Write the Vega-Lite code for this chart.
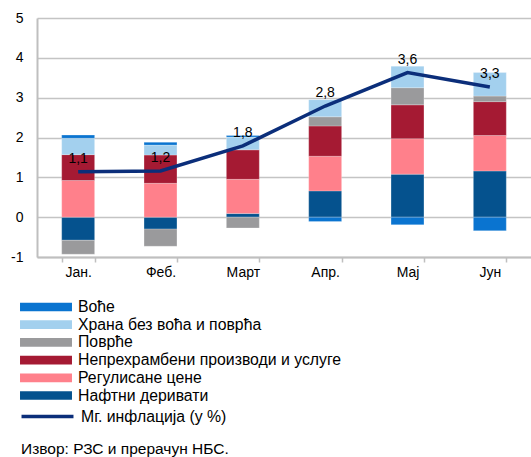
{
  "$schema": "https://vega.github.io/schema/vega-lite/v6.json",
  "width": 494,
  "height": 239,
  "autosize": {"type": "none"},
  "padding": {"left": 37, "top": 18, "right": 0, "bottom": 200},
  "background": "white",
  "config": {
    "locale": {"number": {"decimal": ",", "thousands": ".", "grouping": [3], "currency": ["", ""], "minus": "-"}},
    "font": "Liberation Sans",
    "view": {"stroke": null},
    "axis": {"labelFont": "Liberation Sans", "labelFontSize": 14, "labelColor": "#000000", "titleFont": "Liberation Sans"},
    "axisY": {"labelOverlap": false},
    "legend": {"labelFont": "Liberation Sans", "labelFontSize": 15.8, "labelColor": "#000000", "labelLimit": 400}
  },
  "title": {
    "text": "Извор: РЗС и прерачун НБС.",
    "orient": "bottom",
    "anchor": "start",
    "frame": "group",
    "dx": -16,
    "offset": 17,
    "font": "Liberation Sans",
    "fontSize": 15.5,
    "fontWeight": "normal",
    "color": "#000000"
  },
  "datasets": {
    "bars": [
      {"m": "Јан.", "c": "Нафтни деривати", "v": -0.58, "ord": 1},
      {"m": "Јан.", "c": "Регулисане цене", "v": 0.92, "ord": 2},
      {"m": "Јан.", "c": "Непрехрамбени производи и услуге", "v": 0.65, "ord": 3},
      {"m": "Јан.", "c": "Поврће", "v": -0.35, "ord": 4},
      {"m": "Јан.", "c": "Храна без воћа и поврћа", "v": 0.41, "ord": 5},
      {"m": "Јан.", "c": "Воће", "v": 0.08, "ord": 6},
      {"m": "Феб.", "c": "Нафтни деривати", "v": -0.30, "ord": 1},
      {"m": "Феб.", "c": "Регулисане цене", "v": 0.85, "ord": 2},
      {"m": "Феб.", "c": "Непрехрамбени производи и услуге", "v": 0.71, "ord": 3},
      {"m": "Феб.", "c": "Поврће", "v": -0.43, "ord": 4},
      {"m": "Феб.", "c": "Храна без воћа и поврћа", "v": 0.25, "ord": 5},
      {"m": "Феб.", "c": "Воће", "v": 0.07, "ord": 6},
      {"m": "Март", "c": "Нафтни деривати", "v": 0.09, "ord": 1},
      {"m": "Март", "c": "Регулисане цене", "v": 0.86, "ord": 2},
      {"m": "Март", "c": "Непрехрамбени производи и услуге", "v": 0.74, "ord": 3},
      {"m": "Март", "c": "Поврће", "v": -0.27, "ord": 4},
      {"m": "Март", "c": "Храна без воћа и поврћа", "v": 0.32, "ord": 5},
      {"m": "Март", "c": "Воће", "v": 0.04, "ord": 6},
      {"m": "Апр.", "c": "Нафтни деривати", "v": 0.66, "ord": 1},
      {"m": "Апр.", "c": "Регулисане цене", "v": 0.87, "ord": 2},
      {"m": "Апр.", "c": "Непрехрамбени производи и услуге", "v": 0.76, "ord": 3},
      {"m": "Апр.", "c": "Поврће", "v": 0.23, "ord": 4},
      {"m": "Апр.", "c": "Храна без воћа и поврћа", "v": 0.43, "ord": 5},
      {"m": "Апр.", "c": "Воће", "v": -0.11, "ord": 6},
      {"m": "Мај", "c": "Нафтни деривати", "v": 1.08, "ord": 1},
      {"m": "Мај", "c": "Регулисане цене", "v": 0.89, "ord": 2},
      {"m": "Мај", "c": "Непрехрамбени производи и услуге", "v": 0.85, "ord": 3},
      {"m": "Мај", "c": "Поврће", "v": 0.43, "ord": 4},
      {"m": "Мај", "c": "Храна без воћа и поврћа", "v": 0.54, "ord": 5},
      {"m": "Мај", "c": "Воће", "v": -0.19, "ord": 6},
      {"m": "Јун", "c": "Нафтни деривати", "v": 1.16, "ord": 1},
      {"m": "Јун", "c": "Регулисане цене", "v": 0.89, "ord": 2},
      {"m": "Јун", "c": "Непрехрамбени производи и услуге", "v": 0.85, "ord": 3},
      {"m": "Јун", "c": "Поврће", "v": 0.14, "ord": 4},
      {"m": "Јун", "c": "Храна без воћа и поврћа", "v": 0.59, "ord": 5},
      {"m": "Јун", "c": "Воће", "v": -0.34, "ord": 6}
    ],
    "line": [
      {"m": "Јан.", "v": 1.14},
      {"m": "Феб.", "v": 1.16},
      {"m": "Март", "v": 1.79},
      {"m": "Апр.", "v": 2.79},
      {"m": "Мај", "v": 3.63},
      {"m": "Јун", "v": 3.27}
    ]
  },
  "encoding": {
    "x": {
      "field": "m",
      "type": "nominal",
      "sort": ["Јан.", "Феб.", "Март", "Апр.", "Мај", "Јун"],
      "scale": {"domain": ["Јан.", "Феб.", "Март", "Апр.", "Мај", "Јун"], "paddingInner": 0.6, "paddingOuter": 0.3},
      "axis": {
        "title": null,
        "labelAngle": 0,
        "labelPadding": 3,
        "tickBand": "extent",
        "tickSize": 5,
        "tickColor": "#bfbfbf",
        "tickWidth": 1.5,
        "domainColor": "#bfbfbf",
        "domainWidth": 2,
        "grid": false
      }
    },
    "y": {
      "field": "v",
      "type": "quantitative",
      "scale": {"domain": [-1, 5], "nice": false},
      "axis": {
        "title": null,
        "values": [-1, 0, 1, 2, 3, 4, 5],
        "labelOverlap": false,
        "ticks": false,
        "labelPadding": 14,
        "grid": true,
        "gridColor": "#c4c4c4",
        "gridWidth": 1.6,
        "domainColor": "#bfbfbf",
        "domainWidth": 2
      }
    }
  },
  "layer": [
    {
      "data": {"name": "bars"},
      "mark": {"type": "bar", "stroke": "white", "strokeWidth": 0.4, "strokeOpacity": 0.6},
      "encoding": {
        "y": {
          "field": "v",
          "type": "quantitative",
          "stack": "zero"
        },
        "fill": {
          "field": "c",
          "type": "nominal",
          "scale": {
            "domain": ["Воће", "Храна без воћа и поврћа", "Поврће", "Непрехрамбени производи и услуге", "Регулисане цене", "Нафтни деривати"],
            "range": ["#0a74d0", "#a3d0ee", "#9a9a9c", "#a51a33", "#ff808b", "#05528e"]
          },
          "legend": {
            "title": null,
            "orient": "none",
            "legendX": 0,
            "legendY": 280,
            "symbolType": "M-3,-0.5H3V0.5H-3Z",
            "symbolSize": 300,
            "symbolStrokeWidth": 0,
            "symbolOpacity": 1,
            "labelOffset": 23,
            "rowPadding": 0.7,
            "padding": 0
          }
        },
        "order": {"field": "ord", "type": "quantitative"}
      }
    },
    {
      "data": {"name": "line"},
      "mark": {"type": "line", "strokeWidth": 3.5},
      "encoding": {
        "stroke": {
          "datum": "Мг. инфлација (у %)",
          "scale": {"range": ["#0b2e7a"]},
          "legend": {
            "title": null,
            "orient": "none",
            "legendX": 0,
            "legendY": 388,
            "symbolType": "M-3,0H3",
            "symbolSize": 300,
            "symbolStrokeWidth": 3.5,
            "labelOffset": 23,
            "padding": 0
          }
        }
      }
    },
    {
      "data": {"name": "line"},
      "mark": {"type": "text", "baseline": "bottom", "dy": -6, "fontSize": 14, "color": "#000000", "font": "Liberation Sans"},
      "encoding": {
        "text": {"field": "v", "type": "quantitative", "format": ".1f"}
      }
    }
  ]
}
